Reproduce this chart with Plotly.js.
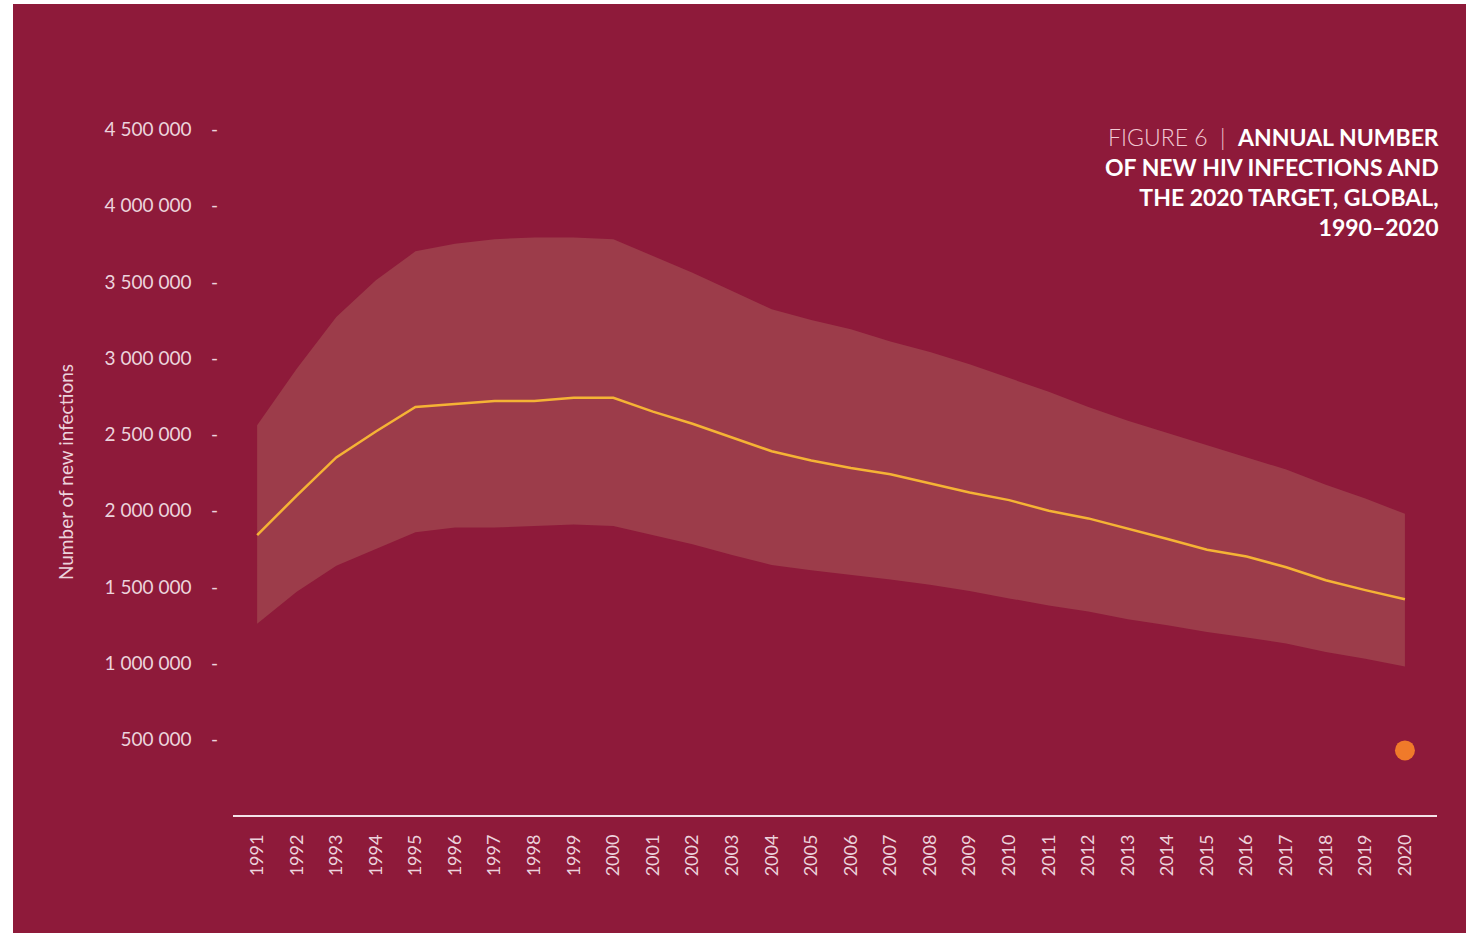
<!DOCTYPE html>
<html>
<head>
<meta charset="utf-8">
<script src="https://cdn.plot.ly/plotly-3.0.1.min.js"></script>
<style>
  html, body { margin: 0; padding: 0; background: #ffffff; }
  #chart { position: absolute; left: 13px; top: 4px; width: 1453px; height: 929px; }
</style>
</head>
<body>
<div id="chart"></div>
<script>
const years = [1991, 1992, 1993, 1994, 1995, 1996, 1997, 1998, 1999, 2000,
               2001, 2002, 2003, 2004, 2005, 2006, 2007, 2008, 2009, 2010,
               2011, 2012, 2013, 2014, 2015, 2016, 2017, 2018, 2019, 2020];
const newInfections = [1840000, 2100000, 2350000, 2520000, 2680000, 2700000, 2720000, 2720000, 2740000, 2740000,
                       2650000, 2570000, 2480000, 2390000, 2330000, 2280000, 2240000, 2180000, 2120000, 2070000,
                       2000000, 1950000, 1880000, 1815000, 1745000, 1700000, 1630000, 1545000, 1480000, 1420000];
const upperBound = [2560000, 2930000, 3270000, 3510000, 3700000, 3750000, 3780000, 3790000, 3790000, 3780000,
                    3670000, 3560000, 3440000, 3320000, 3250000, 3190000, 3110000, 3040000, 2960000, 2870000,
                    2780000, 2680000, 2590000, 2510000, 2430000, 2350000, 2270000, 2170000, 2080000, 1980000];
const lowerBound = [1260000, 1470000, 1640000, 1750000, 1860000, 1890000, 1890000, 1900000, 1910000, 1900000,
                    1840000, 1780000, 1710000, 1645000, 1610000, 1580000, 1550000, 1515000, 1475000, 1426000,
                    1380000, 1340000, 1290000, 1250000, 1206000, 1170000, 1130000, 1075000, 1030000, 980000];
const targetYear = [2020];
const targetValue = [430000];
const yTickVals = [500000, 1000000, 1500000, 2000000, 2500000, 3000000, 3500000, 4000000, 4500000];
const yTickLabels = ["500 000", "1 000 000", "1 500 000", "2 000 000", "2 500 000", "3 000 000", "3 500 000", "4 000 000", "4 500 000"];
const xTickLabels = years.map(String);

const BG = "#8e1a3a";
const BAND = "#9c3c4a";
const LINE = "#f5b335";
const TXT = "#ecd3dc";
const FONT = "Lato, 'Open Sans', sans-serif";

const NB = "\u00a0";
const yTickText = yTickLabels.map(s => s.replace(/ /g, NB) + NB + NB + NB + NB + "-");

const traces = [
  { x: years, y: lowerBound, type: "scatter", mode: "lines", line: { width: 0, color: BAND }, hoverinfo: "skip" },
  { x: years, y: upperBound, type: "scatter", mode: "lines", line: { width: 0, color: BAND }, fill: "tonexty", fillcolor: BAND, hoverinfo: "skip" },
  { x: years, y: newInfections, type: "scatter", mode: "lines", line: { width: 2.5, color: LINE } },
  { x: targetYear, y: targetValue, type: "scatter", mode: "markers", marker: { size: 20, color: "#f07a2a" } }
];

const layout = {
  width: 1453, height: 929,
  paper_bgcolor: BG, plot_bgcolor: BG,
  showlegend: false,
  margin: { l: 220, r: 29, t: 110, b: 117 },
  font: { family: FONT, color: TXT },
  xaxis: {
    range: [1990.39, 2020.81],
    tickvals: years, ticktext: xTickLabels,
    tickangle: -90,
    showgrid: false, zeroline: false,
    showline: false,
    ticks: "",
    ticklabelstandoff: 14,
    tickfont: { family: FONT, size: 18, color: TXT }
  },
  yaxis: {
    range: [0, 4600000],
    tickvals: yTickVals, ticktext: yTickText,
    showgrid: false, zeroline: true, zerolinecolor: "#f3e3e8", zerolinewidth: 2,
    showline: false, ticks: "",
    ticklabelstandoff: 14,
    tickfont: { family: FONT, size: 19, color: TXT }
  },
  annotations: [
    {
      xref: "paper", yref: "paper", x: 1.003, y: 0.99, xanchor: "right", yanchor: "top",
      align: "right", showarrow: false,
      font: { family: FONT, size: 23, color: "#ffffff" },
      text: '<span style="font-weight:300;color:#f2c9d3">FIGURE 6 ' + NB + '|' + NB + ' </span><b>ANNUAL NUMBER</b><br><b>OF NEW HIV INFECTIONS AND</b><br><b>THE 2020 TARGET, GLOBAL,</b><br><b>1990–2020</b>'
    },
    {
      xref: "paper", yref: "paper", x: -0.1395, y: 0.49, xanchor: "center", yanchor: "middle",
      textangle: -90, showarrow: false,
      font: { family: FONT, size: 19, color: TXT },
      text: "Number of new infections"
    }
  ]
};

Plotly.newPlot("chart", traces, layout, { displayModeBar: false, staticPlot: true });
</script>
</body>
</html>
